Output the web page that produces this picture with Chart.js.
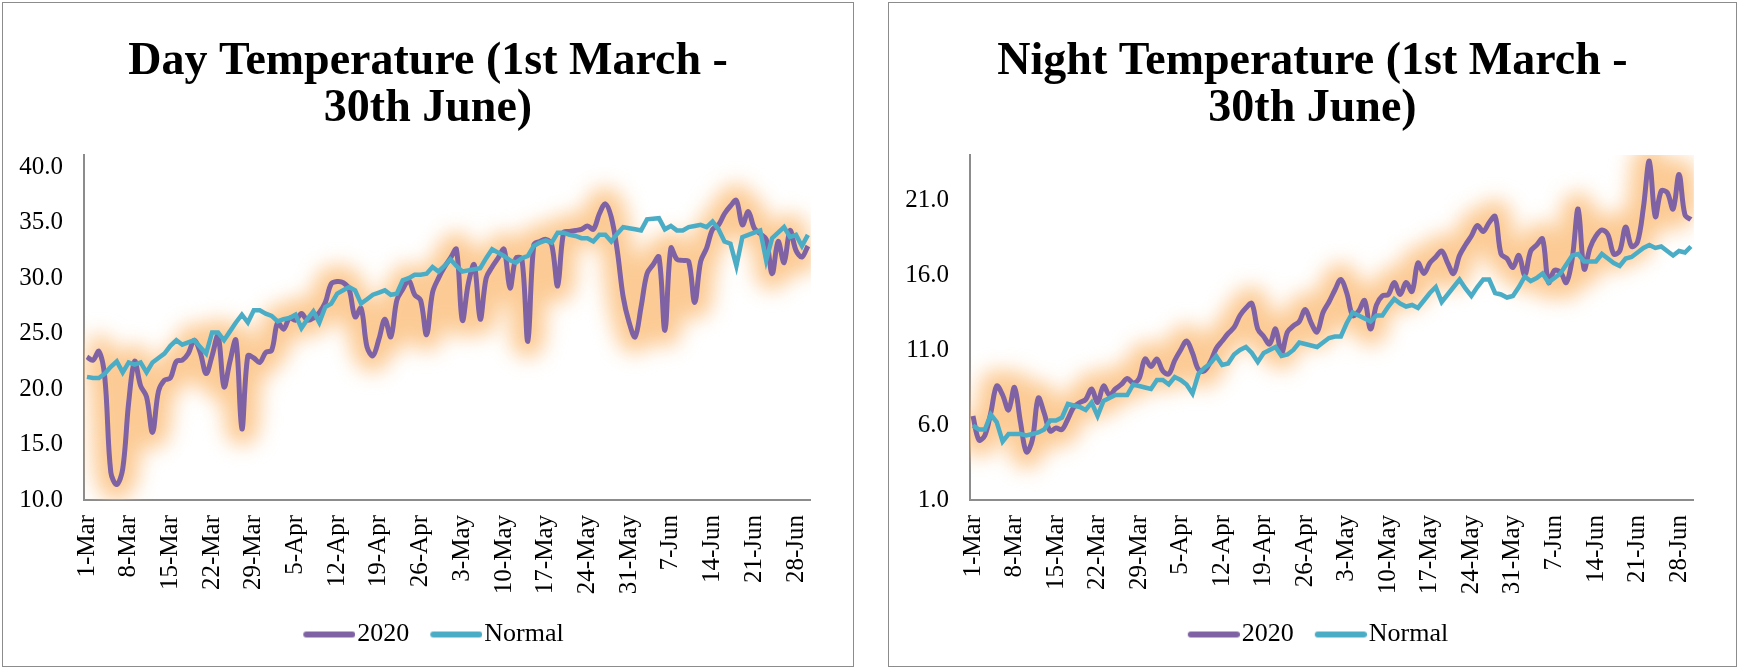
<!DOCTYPE html>
<html>
<head>
<meta charset="utf-8">
<script src="https://cdn.jsdelivr.net/npm/chart.js@4.4.1/dist/chart.umd.min.js"></script>
<style>
  body { margin: 0; background: #fff; }
  .panel { position: absolute; top: 2px; border: 1.5px solid #8c8c8c; background: #fff; }
  canvas { display: block; }
</style>
</head>
<body>
<div class="panel" style="left:2px"><canvas id="day" width="850" height="663"></canvas></div>
<div class="panel" style="left:888px"><canvas id="night" width="847" height="663"></canvas></div>
<script>
// categories: 1 Mar .. 30 Jun, one per day
const months = [['Mar', 31], ['Apr', 30], ['May', 31], ['Jun', 30]];
const labels = [];
months.forEach(([m, n]) => { for (let d = 1; d <= n; d++) labels.push(d + '-' + m); });

const dayTicks = [10, 15, 20, 25, 30, 35, 40];
const nightTicks = [1, 6, 11, 16, 21];

const day2020 = [
  22.9, 22.6, 23.4, 21.0, 12.5, 11.4, 12.8, 18.8, 22.5, 20.3,
  19.3, 16.1, 19.8, 20.8, 21.0, 22.5, 22.6, 23.2, 24.4, 23.3,
  21.4, 23.0, 24.8, 20.2, 22.5, 24.4, 16.4, 23.0, 22.8, 22.4,
  23.3, 23.5, 26.0, 25.4, 26.4, 26.2, 26.8, 26.2, 26.4, 26.9,
  27.8, 29.5, 29.7, 29.6, 29.0, 26.5, 27.3, 23.8, 23.0, 24.5,
  26.3, 24.7, 28.0, 29.0, 29.8, 28.5, 28.0, 24.9, 28.7, 30.0,
  31.0, 31.8, 32.6, 26.2, 29.5, 31.2, 26.3, 30.0, 31.0, 31.8,
  32.6, 29.1, 31.8, 31.7, 24.3, 33.0, 33.3, 33.5, 33.0, 29.3,
  34.1, 34.2, 34.3, 34.4, 34.7, 34.4, 35.8, 36.7, 35.5, 32.5,
  28.3, 26.0, 24.7, 27.4, 30.4, 31.2, 31.9, 25.3, 32.7, 31.7,
  31.6, 31.5, 27.8, 31.5, 32.7, 34.4, 34.8, 35.8, 36.5, 37.0,
  34.8, 36.0, 34.5, 34.0, 33.5, 30.4, 33.3, 31.4, 34.3, 32.5,
  31.9, 32.9
];
const dayNormal = [
  21.1, 21.0, 21.0, 21.4, 22.0, 22.5, 21.5, 22.4, 22.2, 22.4,
  21.5, 22.4, 22.8, 23.2, 23.9, 24.4, 24.0, 24.2, 24.4, 23.8,
  23.2, 25.1, 25.1, 24.4, 25.2, 26.0, 26.7, 26.0, 27.1, 27.1,
  26.8, 26.6, 26.1, 26.3, 26.4, 26.7, 25.5, 26.3, 27.0, 26.0,
  27.4, 27.7, 28.6, 28.9, 29.2, 28.9, 27.7, 28.1, 28.5, 28.7,
  28.9, 28.5, 28.6, 29.8, 30.0, 30.3, 30.3, 30.4, 31.0, 30.6,
  31.1, 31.7, 31.1, 30.6, 30.7, 30.8, 30.9, 31.8, 32.6, 32.3,
  32.0, 31.6, 31.4, 31.8, 32.0, 32.9, 33.2, 33.4, 33.2, 34.1,
  34.1, 33.9, 33.8, 33.6, 33.6, 33.3, 33.9, 33.9, 33.3, 34.0,
  34.6, 34.5, 34.4, 34.3, 35.3, 35.35, 35.4, 34.4, 34.7, 34.3,
  34.3, 34.6, 34.7, 34.8, 34.6, 35.1, 34.4, 33.3, 33.1, 31.1,
  33.7, 33.9, 34.1, 34.3, 31.6, 33.6, 34.1, 34.6, 33.7, 33.9,
  32.9, 33.9
];
const night2020 = [
  6.6, 5.0, 5.3, 6.8, 8.6, 8.0, 7.0, 8.5, 6.2, 4.2,
  5.0, 7.8, 6.8, 5.6, 5.8, 5.7, 6.4, 7.2, 7.5, 7.7,
  8.4, 7.5, 8.6, 8.0, 8.4, 8.7, 9.1, 8.8, 9.1, 10.4,
  9.9, 10.4, 9.6, 9.4, 10.3, 11.0, 11.6, 10.8, 9.7, 9.6,
  10.2, 11.1, 11.6, 12.1, 12.5, 13.3, 13.8, 14.1, 12.4, 11.9,
  11.4, 12.4, 10.8, 12.2, 12.6, 12.9, 13.7, 12.8, 12.2, 13.5,
  14.2, 15.0, 15.7, 14.8, 13.3, 13.6, 14.3, 12.4, 14.0, 14.6,
  14.7, 15.5, 14.7, 15.5, 14.9, 16.8, 16.1, 16.8, 17.2, 17.6,
  16.8, 16.1, 17.3, 18.0, 18.6, 19.3, 18.9, 19.5, 19.9, 17.4,
  17.1, 16.5, 17.3, 16.0, 17.6, 18.0, 18.4, 15.5, 16.3, 16.2,
  15.5, 17.1, 20.4, 16.4, 17.8, 18.6, 19.0, 18.7, 17.4, 17.6,
  19.2, 17.9, 18.2, 20.5, 23.6, 19.9, 21.6, 21.5, 20.4, 22.7,
  20.0, 19.7
];
const nightNormal = [
  5.95, 5.7, 5.7, 6.7, 6.2, 4.9, 5.4, 5.4, 5.4, 5.3,
  5.4, 5.5, 5.7, 6.3, 6.3, 6.5, 7.4, 7.3, 7.2, 7.0,
  7.5, 6.6, 7.6, 7.8, 8.0, 8.0, 8.0, 8.7, 8.6, 8.5,
  8.4, 9.0, 9.0, 8.7, 9.2, 9.0, 8.7, 8.1, 9.4, 9.8,
  10.1, 10.6, 10.0, 10.1, 10.7, 11.0, 11.2, 10.8, 10.2, 10.8,
  11.0, 11.2, 10.6, 10.7, 11.0, 11.5, 11.4, 11.3, 11.2, 11.5,
  11.8, 11.9, 11.9, 12.8, 13.5, 13.3, 13.1, 12.9, 13.3, 13.3,
  13.9, 14.4, 14.1, 13.9, 14.0, 13.8, 14.3, 14.8, 15.2, 14.2,
  14.7, 15.2, 15.7, 15.1, 14.6, 15.2, 15.7, 15.7, 14.8, 14.7,
  14.5, 14.6, 15.2, 15.9, 15.6, 15.8, 16.1, 15.5, 15.8, 16.1,
  16.7, 17.3, 17.4, 16.9, 16.9, 16.9, 17.4, 17.1, 16.8, 16.6,
  17.1, 17.2, 17.5, 17.8, 18.0, 17.8, 17.9, 17.6, 17.3, 17.6,
  17.5, 17.9
];

const PURPLE = '#7f62a3';
const TEAL = '#4bacc6';
const GLOW = 'rgba(251,194,130,0.85)';
const FONT = "'Liberation Serif', 'Times New Roman', serif";

// legend swatch: a short rounded line sitting right next to its text
function swatch(color) {
  const c = document.createElement('canvas');
  c.width = 74; c.height = 8;
  const g = c.getContext('2d');
  g.strokeStyle = color;
  g.lineWidth = 6;
  g.lineCap = 'round';
  g.beginPath(); g.moveTo(25, 4); g.lineTo(71, 4); g.stroke();
  return c;
}

// soft orange halo behind the 2020 line
const glowPlugin = {
  id: 'glow',
  beforeDatasetDraw(chart, args) {
    if (chart.data.datasets[args.index].glow) {
      chart.ctx.save();
      chart.ctx.filter = 'blur(10px)';
    }
  },
  afterDatasetDraw(chart, args) {
    if (chart.data.datasets[args.index].glow) chart.ctx.restore();
  }
};

function makeChart(id, title, actual, normal, ticks, yMin, yMax, padRight) {
  new Chart(document.getElementById(id), {
    type: 'line',
    data: {
      labels: labels,
      datasets: [
        { label: '2020', data: actual, borderColor: PURPLE, borderWidth: 5,
          tension: 0.35, pointRadius: 0, order: 1 },
        { label: 'Normal', data: normal, borderColor: TEAL, borderWidth: 4.5,
          tension: 0, pointRadius: 0, order: 0 },
        { label: 'glow', data: actual, borderColor: GLOW, borderWidth: 33,
          tension: 0.35, pointRadius: 0, order: 2, clip: 0, glow: true }
      ]
    },
    options: {
      responsive: false,
      animation: false,
      layout: { padding: { top: 0, left: 0, right: 0, bottom: 8.5 } },
      plugins: {
        tooltip: { enabled: false },
        title: {
          display: true,
          text: title,
          color: '#000',
          font: { family: FONT, size: 46, weight: 'bold', lineHeight: 1.04 },
          padding: { top: 34.7, bottom: 21.6 }
        },
        legend: {
          position: 'bottom',
          labels: {
            usePointStyle: true,
            pointStyleWidth: 52,
            padding: 10,
            color: '#000',
            font: { family: FONT, size: 26 },
            generateLabels: () => [
              { text: '2020', pointStyle: swatch(PURPLE), lineWidth: 0, datasetIndex: 0 },
              { text: 'Normal', pointStyle: swatch(TEAL), lineWidth: 0, datasetIndex: 1 }
            ]
          }
        }
      },
      scales: {
        x: {
          offset: true,
          grid: { display: false, drawTicks: false },
          border: { color: '#8c8c8c', width: 2 },
          afterFit: (s) => { s.height = 111.5; },
          ticks: {
            autoSkip: false,
            minRotation: 90,
            maxRotation: 90,
            padding: 15,
            color: '#000',
            font: { family: FONT, size: 25 },
            callback: function (v, i) { return i % 7 === 0 ? labels[i] : ''; }
          }
        },
        y: {
          min: yMin,
          max: yMax,
          grid: { display: false, drawTicks: false },
          border: { color: '#8c8c8c', width: 2 },
          afterFit: (s) => { s.width = 81; },
          afterBuildTicks: (s) => { s.ticks = ticks.map(v => ({ value: v })); },
          ticks: {
            padding: 21,
            color: '#000',
            font: { family: FONT, size: 25 },
            callback: (v) => Number(v).toFixed(1)
          }
        },
        // blank strip on the right so the plot ends where the original does
        yRight: {
          position: 'right',
          grid: { display: false, drawTicks: false },
          border: { display: false },
          ticks: { display: false },
          afterFit: (s) => { s.width = padRight; }
        }
      }
    },
    plugins: [glowPlugin]
  });
}

makeChart('day', ['Day Temperature (1st March -', '30th June)'],
  day2020, dayNormal, dayTicks, 10, 41.1, 28);
makeChart('night', ['Night Temperature (1st March -', '30th June)'],
  night2020, nightNormal, nightTicks, 1, 24, 24.5);
</script>
</body>
</html>
